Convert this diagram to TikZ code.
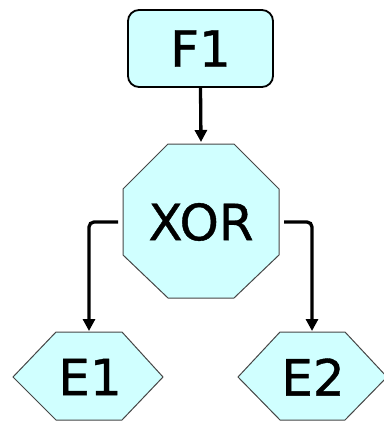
\documentclass[tikz,border=0pt]{standalone}
\usepackage{fontspec}
\setmainfont{DejaVu Sans}
\newfontfamily\lblfont[FakeBold=0.8]{DejaVu Sans}
\usetikzlibrary{arrows.meta}
\definecolor{boxfill}{RGB}{208,255,255}
\definecolor{edgegray}{RGB}{70,70,70}
\begin{document}
\begin{tikzpicture}[x=1pt,y=-1pt,
  lbl/.style={inner sep=0pt, font=\lblfont\fontsize{50}{60}\selectfont},
  shapeline/.style={draw=edgegray, line width=1pt, fill=boxfill},
  fbox/.style={draw=black, line width=1.8pt, fill=boxfill, rounded corners=11pt,
    minimum width=145pt, minimum height=77pt, inner sep=0pt, font=\lblfont\fontsize{50}{60}\selectfont},
  conn/.style={draw=black, line width=3.3pt, rounded corners=5pt,
    -{Triangle[width=12pt,length=12pt]}}]
\useasboundingbox (0,0) rectangle (383,422);
% F1
\node[fbox] (f1) at (200.5,48.5) {F1};
% XOR octagon
\draw[shapeline] (168,144) -- (234,144) -- (279,189) -- (279,255) -- (234,298)
  -- (168,298) -- (123,255) -- (123,189) -- cycle;
\node[lbl] (xor) at (201,222) {XOR};
\coordinate (xortop) at (201,142);
\coordinate (xorl) at (118,222);
\coordinate (xorr) at (284,222);
% E1 hexagon
\draw[shapeline] (13,377) -- (56,332) -- (122,332) -- (163,377) -- (122,420) -- (56,420) -- cycle;
\node[lbl] (e1) at (90,377) {E1};
\coordinate (e1top) at (89,331);
% E2 hexagon
\draw[shapeline] (238,377) -- (280,332) -- (345,332) -- (387,377) -- (345,420) -- (280,420) -- cycle;
\node[lbl] (e2) at (313,377) {E2};
\coordinate (e2top) at (312,331);
% connectors
\draw[conn] (f1.south) -- (xortop);
\draw[conn] (xorl) -| (e1top);
\draw[conn] (xorr) -| (e2top);
\end{tikzpicture}
\end{document}
